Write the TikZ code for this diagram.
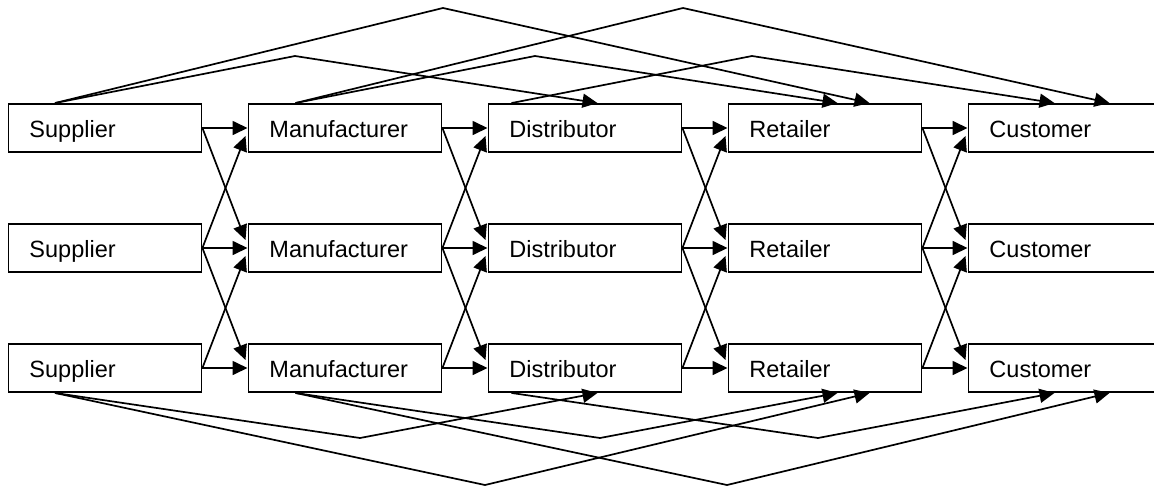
\documentclass[tikz,border=0pt]{standalone}
\usepackage{fontspec}
\setmainfont{Liberation Sans}
\usetikzlibrary{arrows.meta,calc}

\begin{document}
\begin{tikzpicture}[x=0.5pt, y=-0.5pt,
    box/.style={draw, line width=0.95pt, anchor=west, minimum height=24pt,
        text width=75.5pt, text height=9.5pt, text depth=0pt,
        inner xsep=10.5pt, inner ysep=0pt, align=left,
        font=\fontsize{11.75}{14}\selectfont},
    arr/.style={-{Triangle[length=7.5pt, width=7pt]}, line width=0.85pt}]

    \clip (0, 0) rectangle (1154, 487);

    \def\xl{7.5}
    \def\dx{240}
    \def\ya{128}
    \def\dy{120}

    % the five stages, three of each
    \node[box] (s1) at (\xl, \ya) {Supplier};
    \node[box] (s2) at (\xl, \ya + \dy) {Supplier};
    \node[box] (s3) at (\xl, \ya + 2 * \dy) {Supplier};
    \node[box] (m1) at (\xl + \dx, \ya) {Manufacturer};
    \node[box] (m2) at (\xl + \dx, \ya + \dy) {Manufacturer};
    \node[box] (m3) at (\xl + \dx, \ya + 2 * \dy) {Manufacturer};
    \node[box] (d1) at (\xl + 2 * \dx, \ya) {Distributor};
    \node[box] (d2) at (\xl + 2 * \dx, \ya + \dy) {Distributor};
    \node[box] (d3) at (\xl + 2 * \dx, \ya + 2 * \dy) {Distributor};
    \node[box] (r1) at (\xl + 3 * \dx, \ya) {Retailer};
    \node[box] (r2) at (\xl + 3 * \dx, \ya + \dy) {Retailer};
    \node[box] (r3) at (\xl + 3 * \dx, \ya + 2 * \dy) {Retailer};
    \node[box] (c1) at (\xl + 4 * \dx, \ya) {Customer};
    \node[box] (c2) at (\xl + 4 * \dx, \ya + \dy) {Customer};
    \node[box] (c3) at (\xl + 4 * \dx, \ya + 2 * \dy) {Customer};

    % supplier -> manufacturer
    \draw[arr] (s1.east) -- (m1.west);
    \draw[arr] (s1.east) -- ($(m2.west) + (-2, -8)$);
    \draw[arr] (s2.east) -- ($(m1.west) + (-2, 8)$);
    \draw[arr] (s2.east) -- (m2.west);
    \draw[arr] (s2.east) -- ($(m3.west) + (-2, -8)$);
    \draw[arr] (s3.east) -- ($(m2.west) + (-2, 8)$);
    \draw[arr] (s3.east) -- (m3.west);

    % manufacturer -> distributor
    \draw[arr] (m1.east) -- (d1.west);
    \draw[arr] (m1.east) -- ($(d2.west) + (-2, -8)$);
    \draw[arr] (m2.east) -- ($(d1.west) + (-2, 8)$);
    \draw[arr] (m2.east) -- (d2.west);
    \draw[arr] (m2.east) -- ($(d3.west) + (-2, -8)$);
    \draw[arr] (m3.east) -- ($(d2.west) + (-2, 8)$);
    \draw[arr] (m3.east) -- (d3.west);

    % distributor -> retailer
    \draw[arr] (d1.east) -- (r1.west);
    \draw[arr] (d1.east) -- ($(r2.west) + (-2, -8)$);
    \draw[arr] (d2.east) -- ($(r1.west) + (-2, 8)$);
    \draw[arr] (d2.east) -- (r2.west);
    \draw[arr] (d2.east) -- ($(r3.west) + (-2, -8)$);
    \draw[arr] (d3.east) -- ($(r2.west) + (-2, 8)$);
    \draw[arr] (d3.east) -- (r3.west);

    % retailer -> customer
    \draw[arr] (r1.east) -- (c1.west);
    \draw[arr] (r1.east) -- ($(c2.west) + (-2, -8)$);
    \draw[arr] (r2.east) -- ($(c1.west) + (-2, 8)$);
    \draw[arr] (r2.east) -- (c2.west);
    \draw[arr] (r2.east) -- ($(c3.west) + (-2, -8)$);
    \draw[arr] (r3.east) -- ($(c2.west) + (-2, 8)$);
    \draw[arr] (r3.east) -- (c3.west);

    % skipping links over the top row
    \draw[arr] ($(s1.north west) + (47.5, 0)$) -- (295, 56) -- ($(d1.north west) + (110, 0)$);
    \draw[arr] ($(s1.north west) + (47.5, 0)$) -- (443, 8) -- ($(r1.north west) + (142, 0)$);
    \draw[arr] ($(m1.north west) + (48, 0)$) -- (535, 56) -- ($(r1.north west) + (110, 0)$);
    \draw[arr] ($(m1.north west) + (48, 0)$) -- (683, 8) -- ($(c1.north west) + (142, 0)$);
    \draw[arr] ($(d1.north west) + (24, 0)$) -- (752, 56) -- ($(c1.north west) + (87, 0)$);

    % and under the bottom row
    \draw[arr] ($(s3.south west) + (47.5, 0)$) -- (360, 438) -- ($(d3.south west) + (110, 0)$);
    \draw[arr] ($(s3.south west) + (47.5, 0)$) -- (485, 485) -- ($(r3.south west) + (142, 0)$);
    \draw[arr] ($(m3.south west) + (48, 0)$) -- (600, 438) -- ($(r3.south west) + (110, 0)$);
    \draw[arr] ($(m3.south west) + (48, 0)$) -- (727, 485) -- ($(c3.south west) + (142, 0)$);
    \draw[arr] ($(d3.south west) + (24, 0)$) -- (818, 438) -- ($(c3.south west) + (87, 0)$);

\end{tikzpicture}
\end{document}
